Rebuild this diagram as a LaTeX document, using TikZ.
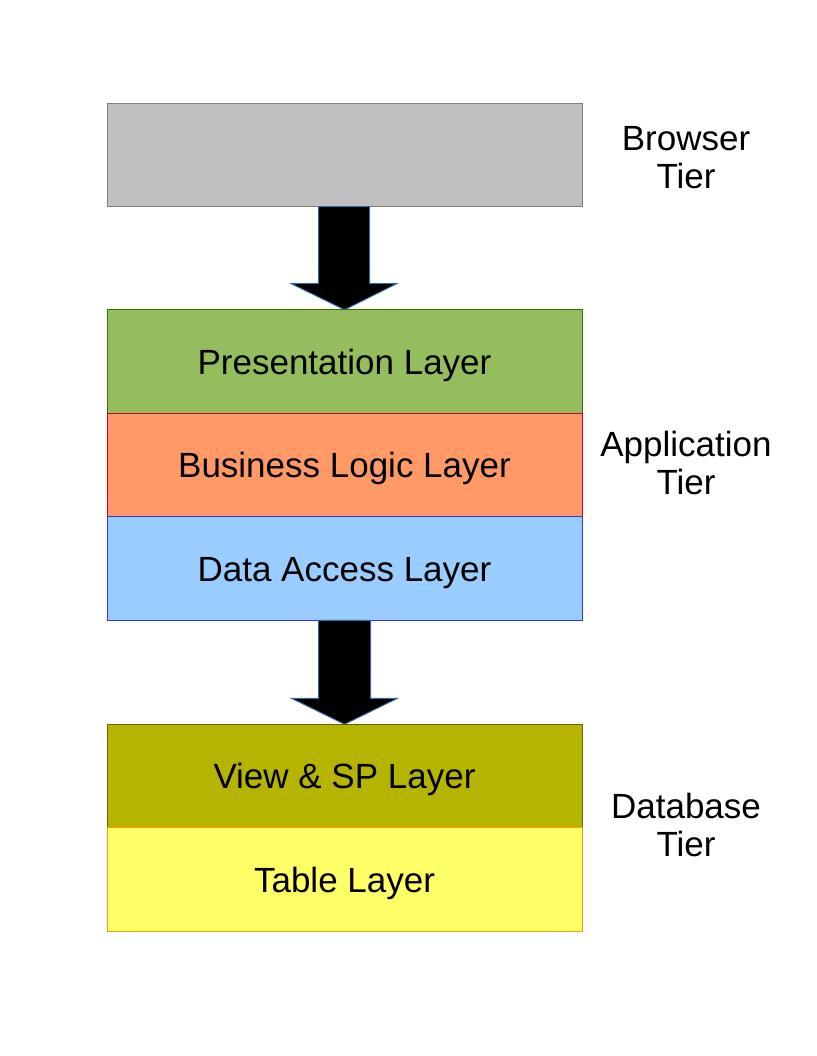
\documentclass[tikz,border=0pt]{standalone}
\usepackage{fontspec}
\setmainfont{Liberation Sans}
\usepackage{xcolor}
\usepackage{tikz}
\definecolor{browsergray}{RGB}{192,192,192}
\definecolor{browserborder}{RGB}{128,128,128}
\definecolor{presgreen}{RGB}{148,189,94}
\definecolor{presborder}{RGB}{60,110,0}
\definecolor{busorange}{RGB}{255,153,102}
\definecolor{busborder}{RGB}{204,0,51}
\definecolor{datablue}{RGB}{153,204,255}
\definecolor{databorder}{RGB}{51,51,255}
\definecolor{viewolive}{RGB}{181,180,0}
\definecolor{viewborder}{RGB}{102,102,0}
\definecolor{tableyellow}{RGB}{255,255,102}
\definecolor{tableborder}{RGB}{255,153,0}
\definecolor{arrowblue}{RGB}{52,101,164}
\usetikzlibrary{positioning,calc}

\begin{document}
\begin{tikzpicture}[
    x=1pt, y=-1pt,
    layer/.style={
        rectangle,
        minimum width=475pt,
        minimum height=103.5pt,
        inner sep=0pt,
        outer sep=0pt,
        line width=1pt,
        text height=25pt,
        text depth=0pt,
        font=\fontsize{35}{38}\selectfont
    },
    tier/.style={align=center, font=\fontsize{35}{38}\selectfont},
    bigarrow/.style={fill=black, draw=arrowblue, line width=1pt}
]
    \useasboundingbox (0,0) rectangle (816,1056);
    % Browser tier
    \node[layer, fill=browsergray, draw=browserborder] (browser) at (344.5,155) {};
    % Application tier
    \node[layer, fill=presgreen, draw=presborder, below=103pt of browser] (present) {Presentation Layer};
    \node[layer, fill=busorange, draw=busborder, below=0pt of present] (business) {Business Logic Layer};
    \node[layer, fill=datablue, draw=databorder, below=0pt of business] (dataaccess) {Data Access Layer};
    % Database tier
    \node[layer, fill=viewolive, draw=viewborder, below=104pt of dataaccess] (viewsp) {View \& SP Layer};
    \node[layer, fill=tableyellow, draw=tableborder, below=0pt of viewsp] (table) {Table Layer};

    % Arrows
    \draw[bigarrow] ($(browser.south)+(-26,0)$) -- ($(browser.south)+(25,0)$)
        -- ($(present.north)+(25,-26)$) -- ($(present.north)+(52,-26)$)
        -- (present.north) -- ($(present.north)+(-53,-26)$)
        -- ($(present.north)+(-26,-26)$) -- cycle;
    \draw[bigarrow] ($(dataaccess.south)+(-26,0)$) -- ($(dataaccess.south)+(26,0)$)
        -- ($(viewsp.north)+(26,-26)$) -- ($(viewsp.north)+(53,-26)$)
        -- (viewsp.north) -- ($(viewsp.north)+(-53,-26)$)
        -- ($(viewsp.north)+(-26,-26)$) -- cycle;

    % Tier labels
    \node[tier] (browsertier) at (686,158) {Browser\\Tier};
    \node[tier] (apptier) at (686,463) {Application\\Tier};
    \node[tier] (dbtier) at (686,825) {Database\\Tier};
\end{tikzpicture}
\end{document}
